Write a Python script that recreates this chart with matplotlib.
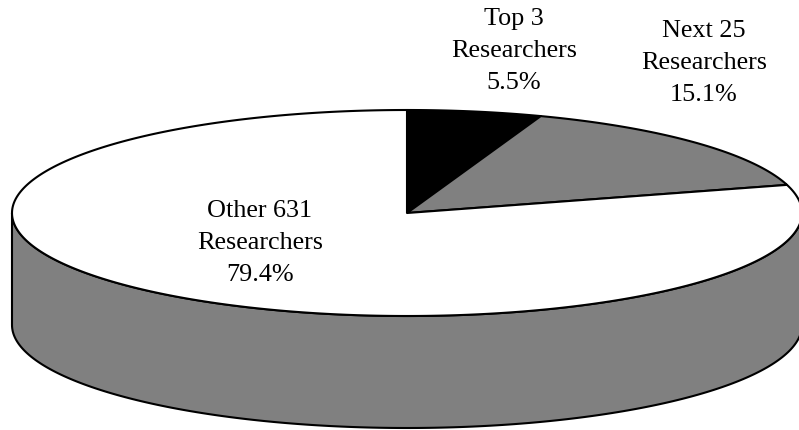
import numpy as np
import matplotlib.pyplot as plt
from matplotlib.patches import Polygon

labels = ["Top 3\nResearchers", "Next 25\nResearchers", "Other 631\nResearchers"]
shares = [5.5, 15.1, 79.4]
colors = ["#000000", "#808080", "#ffffff"]
side_color = "#808080"

# label centres in pixel coords
label_pos = [(514, 51), (704, 63), (260, 243)]

# 3d pie geometry (pixels)
cx, cy = 407, 213
a, b = 395, 103
depth = 112

def pt(t):
    # t in degrees, clockwise from 12 o'clock
    r = np.radians(t)
    return cx + a * np.sin(r), cy - b * np.cos(r)

fig = plt.figure(figsize=(7.99, 4.30), dpi=100)
ax = fig.add_axes([0, 0, 1, 1])
ax.set_xlim(0, 799)
ax.set_ylim(430, 0)
ax.axis("off")

# side wall (front half)
t = np.linspace(90, 270, 200)
xs, ys = pt(t)
wall = np.concatenate([np.column_stack([xs, ys]),
                       np.column_stack([xs[::-1], ys[::-1] + depth])])
ax.add_patch(Polygon(wall, closed=True, facecolor=side_color,
                     edgecolor="black", lw=1.5, joinstyle="round"))

# top slices
start = 0.0
for share, col in zip(shares, colors):
    end = start + share / 100 * 360
    tt = np.linspace(start, end, max(int(share * 4), 4))
    px, py = pt(tt)
    verts = np.vstack([[cx, cy], np.column_stack([px, py])])
    ax.add_patch(Polygon(verts, closed=True, facecolor=col,
                         edgecolor="black", lw=1.5, joinstyle="round"))
    start = end

for lab, share, (x, y) in zip(labels, shares, label_pos):
    ax.text(x, y, f"{lab}\n{share}%", ha="center", va="center",
            family="Liberation Serif", fontsize=18.8, linespacing=1.58)

fig.savefig("out.png", dpi=100)
